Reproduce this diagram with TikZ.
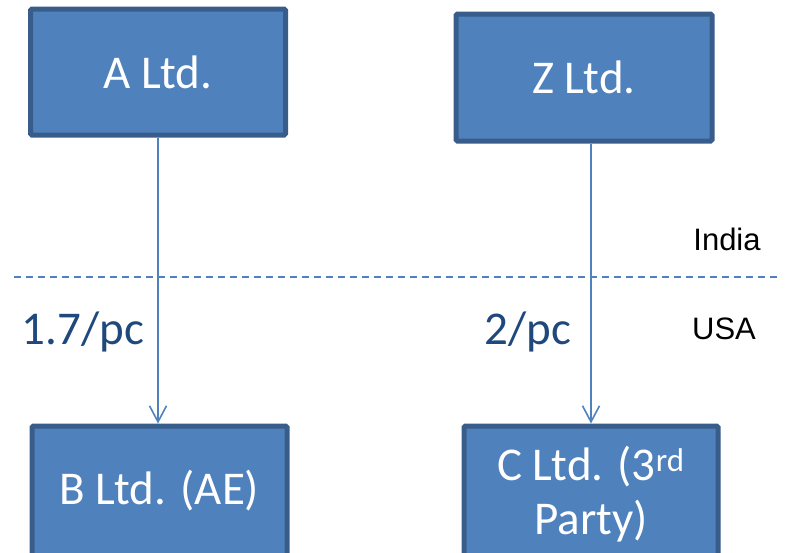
\documentclass[tikz,border=0pt]{standalone}
\usepackage{fontspec}
\setmainfont{Carlito}
\newfontfamily\arialfont{Liberation Sans}
\usetikzlibrary{arrows.meta}
\definecolor{boxfill}{HTML}{4F81BD}
\definecolor{boxline}{HTML}{385D8A}
\definecolor{labblue}{HTML}{1F497D}
\tikzset{
  entity/.style={draw=boxline, fill=boxfill, line width=5pt, rounded corners=1.5pt,
    text=white, font=\fontsize{47}{54}\selectfont, align=center, inner sep=0pt},
  flow/.style={draw=boxfill, line width=1.6pt, -{Straight Barb[length=16pt,width=17pt,line width=1.6pt]}},
  border/.style={draw=boxfill, line width=1.3pt, dash pattern=on 7pt off 5pt},
  price/.style={text=labblue, font=\fontsize{47}{52}\selectfont, inner sep=0pt},
  country/.style={text=black, font=\arialfont\fontsize{31}{34}\selectfont, inner sep=0pt}
}
\begin{document}
\begin{tikzpicture}[x=1pt,y=-1pt]
\useasboundingbox (0,0) rectangle (789,552);
\clip (0,0) rectangle (789,552);
\node[entity, minimum width=255pt, minimum height=126pt] (A) at (158,72) {A Ltd.};
\node[entity, minimum width=256pt, minimum height=127pt] (Z) at (584,77.5) {Z Ltd.};
\node[entity, minimum width=255pt, minimum height=130pt] (B) at (159.5,491) {B Ltd. (AE)};
\node[entity, minimum width=254pt, minimum height=136pt] (C) at (591,494) {C Ltd. (3\textsuperscript{rd}\\Party)};
\coordinate (L) at (14,277);
\coordinate (R) at (781,277);
\draw[border] (L) -- (R);
\draw[flow] (A.south) -- (A.south |- B.north);
\draw[flow] (C.north |- Z.south) -- (C.north);
\node[price] (p1) at (83,332) {1.7/pc};
\node[price] (p2) at (528,332) {2/pc};
\node[country] (in) at (727,239) {India};
\node[country] (us) at (724,329) {USA};
\end{tikzpicture}
\end{document}
